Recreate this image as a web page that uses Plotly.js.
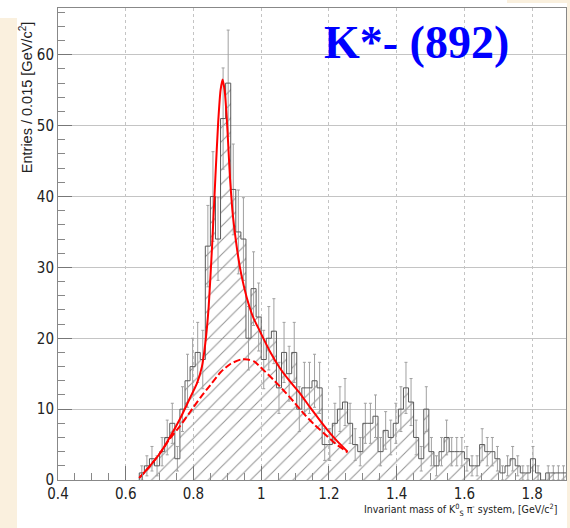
<!DOCTYPE html>
<html><head><meta charset="utf-8">
<script src="https://cdn.plot.ly/plotly-3.0.1.min.js"></script>
<style>
html,body{margin:0;padding:0;background:#fff;}
#wrap{position:relative;width:570px;height:528px;overflow:hidden;background:#fff;}
.beige{position:absolute;background:#faf0de;}
#chart{position:absolute;left:0;top:0;width:570px;height:528px;}
</style></head><body>
<div id="wrap">
<div class="beige" style="left:0;top:18px;width:17px;height:510px"></div>
<div class="beige" style="left:507px;top:0;width:63px;height:3px"></div>
<div class="beige" style="left:567px;top:0;width:3px;height:528px"></div>
<div id="chart"></div>
</div>
<script>
// Histogram definition: 100 bins of 0.015 GeV/c^2 from 0.4
const binLow = 0.4;
const binWidth = 0.015;
const counts = [
  0,0,0,0,0,0,0,0,0,0,0,0,0,0,0,0,
  1,2,3,2,4,6,8,3,10,14,16,18,17,33,40,34,51,56,41,35,
  34,20,27,23,17,20,21,13,18,15,18,10,13,13,14,13,5,5,8,10,
  11,8,5,4,8,8,9,4,7,6,8,10,13,11,6,3,10,4,2,4,
  6,4,4,4,3,2,2,5,4,4,3,1,2,3,2,1,1,3,1,0,
  1,1,1,1
];
// Fit: signal + background (solid)
const fitX = [0.640,0.670,0.700,0.730,0.760,0.790,0.810,0.825,0.835,0.845,0.855,0.865,0.873,0.880,0.886,0.892,0.898,0.903,0.908,0.915,0.922,0.932,0.942,0.957,0.976,0.996,1.025,1.055,1.085,1.115,1.145,1.175,1.205,1.230,1.255];
const fitTotal = [0.3,1.9,3.7,6.0,8.6,11.6,13.6,16.0,19.3,24.5,33.0,43.0,50.5,55.0,56.5,55.0,51.3,47.0,42.5,38.0,35.0,31.5,28.8,25.8,23.0,21.0,18.2,15.8,13.9,12.2,10.2,8.3,6.5,5.2,4.0];
// Fit: background only (dashed)
const bkgX = [0.640,0.670,0.700,0.730,0.760,0.790,0.820,0.850,0.880,0.910,0.940,0.960,0.980,1.005,1.035,1.065,1.095,1.125,1.155,1.185,1.215,1.255];
const bkgY = [0.3,1.9,3.7,5.8,7.6,9.6,11.6,13.4,15.2,16.4,17.0,17.0,16.7,15.6,14.2,12.7,11.1,9.4,7.9,6.6,5.3,3.9];

const centers = counts.map((_, i) => +(binLow + (i + 0.5) * binWidth).toFixed(5));
const edges = counts.map((_, i) => +(binLow + i * binWidth).toFixed(5));
const first = counts.findIndex(v => v > 0);
const stepX = [edges[first]], stepY = [0];
for (let i = first; i < counts.length; i++) { stepX.push(edges[i]); stepY.push(counts[i]); }
stepX.push(+(binLow + counts.length * binWidth).toFixed(5)); stepY.push(counts[counts.length - 1]);
const ex = [], ey = [];
counts.forEach((v, i) => { if (v > 0) { ex.push(centers[i]); ey.push(v); } });

const narrow = '"Liberation Sans Narrow", "Arial Narrow", "DejaVu Sans Condensed", sans-serif';
const traces = [
  { type: 'bar', x: centers, y: counts, width: binWidth, hoverinfo: 'skip',
    marker: { color: 'rgba(0,0,0,0)', line: { width: 0 },
      pattern: { shape: '/', fgcolor: '#939393', bgcolor: 'rgba(0,0,0,0)', size: 10, solidity: 0.1, fillmode: 'replace' } } },
  { type: 'scatter', mode: 'markers', x: ex, y: ey, hoverinfo: 'skip',
    marker: { size: 1, color: 'rgba(0,0,0,0)' },
    error_y: { type: 'sqrt', color: '#a0a0a0', thickness: 1, width: 1.5 } },
  { type: 'scatter', mode: 'lines', x: stepX, y: stepY, hoverinfo: 'skip',
    line: { shape: 'hv', color: '#5a5a5a', width: 1 } },
  { type: 'scatter', mode: 'lines', x: bkgX, y: bkgY, hoverinfo: 'skip',
    line: { shape: 'spline', smoothing: 0.6, color: '#ff0000', width: 2, dash: '7px,3px' } },
  { type: 'scatter', mode: 'lines', x: fitX, y: fitTotal, hoverinfo: 'skip',
    line: { shape: 'spline', smoothing: 0.5, color: '#ff0000', width: 2 } }
];

const layout = {
  width: 570, height: 528,
  margin: { l: 58, r: 4, t: 8, b: 48, pad: 0 },
  paper_bgcolor: 'rgba(0,0,0,0)', plot_bgcolor: '#ffffff',
  showlegend: false, bargap: 0, hovermode: false,
  xaxis: {
    range: [0.4, 1.9], tick0: 0.4, dtick: 0.2, ticks: 'inside', ticklen: 14, tickcolor: '#777', tickwidth: 1,
    showline: true, linecolor: '#888', linewidth: 1, mirror: true,
    showgrid: true, gridcolor: '#c4c4c4', griddash: '3px,3px', zeroline: false,
    tickfont: { family: narrow, size: 15, color: '#222' },
    minor: { dtick: 0.05, ticks: 'inside', ticklen: 7, tickcolor: '#888', showgrid: false }
  },
  yaxis: {
    range: [0, 66.6], tick0: 0, dtick: 10, ticks: 'inside', ticklen: 14, tickcolor: '#777', tickwidth: 1,
    showline: true, linecolor: '#888', linewidth: 1, mirror: true,
    showgrid: true, gridcolor: '#c4c4c4', zeroline: false,
    tickfont: { family: narrow, size: 15, color: '#222' },
    minor: { dtick: 2, ticks: 'inside', ticklen: 7, tickcolor: '#888', showgrid: false }
  },
  annotations: [
    { text: '<b>K*- (892)</b>', xref: 'paper', yref: 'paper', x: 0.705, y: 0.926,
      xanchor: 'center', yanchor: 'middle', showarrow: false,
      font: { family: '"Liberation Serif", "Times New Roman", serif', size: 46, color: '#0000ff' } },
    { text: 'Entries / 0.015 [GeV/c<sup>2</sup>]', xref: 'paper', yref: 'paper', x: -0.063, y: 0.811,
      xanchor: 'center', yanchor: 'middle', textangle: -90, showarrow: false,
      font: { family: '"Liberation Sans", Arial, sans-serif', size: 14.5, color: '#222' } },
    { text: 'Invariant mass of K<sup>0</sup><sub>S</sub> π<sup>-</sup> system, [GeV/c<sup>2</sup>]', xref: 'paper', yref: 'paper',
      x: 0.986, y: -0.063, xanchor: 'right', yanchor: 'middle', showarrow: false,
      font: { family: narrow, size: 10.5, color: '#222' } }
  ]
};
Plotly.newPlot('chart', traces, layout, { displayModeBar: false, staticPlot: true });
</script>
</body></html>
